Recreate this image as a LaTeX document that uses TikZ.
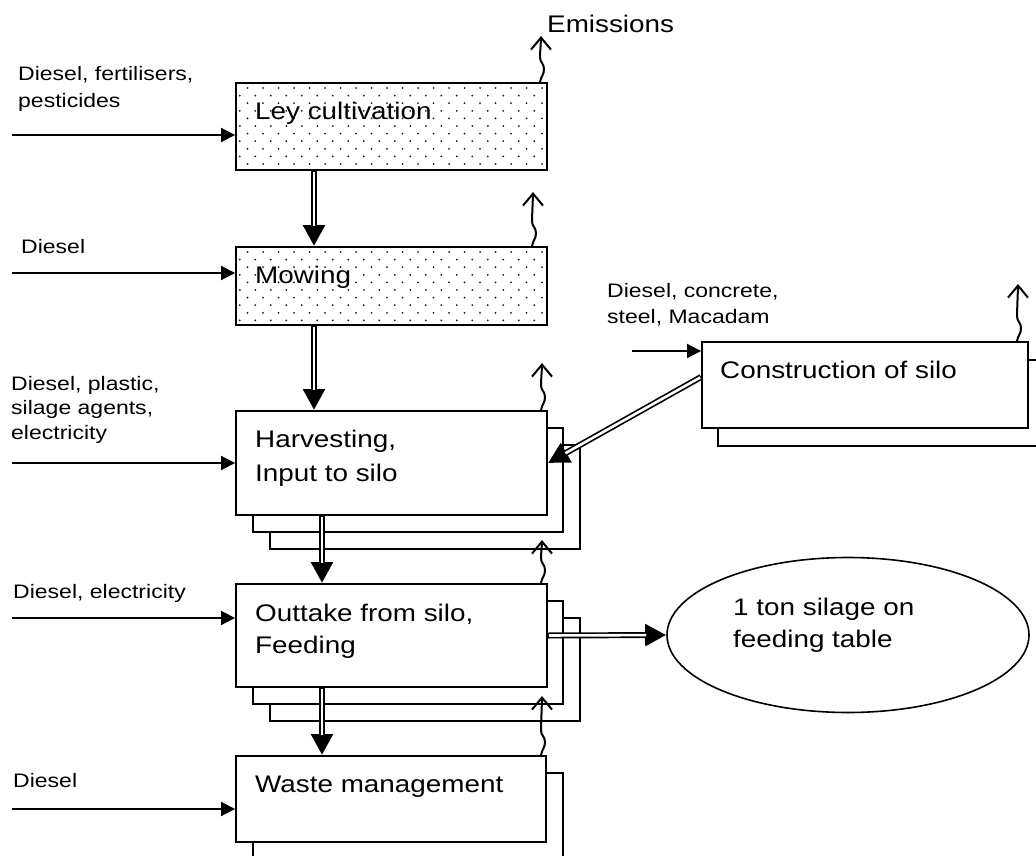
\documentclass[tikz,border=0pt]{standalone}
\usepackage{graphicx}
\usepackage{fontspec}
\setmainfont{Liberation Sans}
\usetikzlibrary{arrows.meta,shapes.geometric}

% wide text, as set in the original document
\newcommand\wbig[1]{\scalebox{1.16}[1]{#1}}
\newcommand\wsmall[1]{\scalebox{1.18}[1]{#1}}

% double-lined flow arrow: thick black stroke with tip, white core on top
\newcommand\dblarrow[2]{%
  \draw[flowout] #1 -- #2;
  \draw[flowin] #1 -- #2;}

% dotted fill inside a rectangle given by left, top, right, bottom
\newcommand\dotrect[4]{%
  \begin{scope}
    \clip (#1,#2) rectangle (#3,#4);
    \foreach \r in {0,...,14}{%
      \pgfmathsetmacro\yy{#2+4+\r*7.6}
      \pgfmathsetmacro\xo{#1+10.5-mod(\r,2)*7.75}
      \foreach \c in {0,...,21}{%
        \fill[black!90] (\xo+\c*15.5,\yy) circle (1pt);
      }
    }
  \end{scope}}

% wavy emission arrow rising from a point
\newcommand\emitfrom[2]{%
  \draw[emit] #1 .. controls +(1,-6) and +(0,6) .. ++(4,-13)
    .. controls +(0,-6) and +(0,6) .. ++(-4,-12)
    .. controls +(0,-4) and +(0,4) .. ++(1,#2);}

\begin{document}
\begin{tikzpicture}[x=1pt,y=-1pt,
  box/.style={draw, line width=1.9pt, fill=white, rectangle, inner sep=0pt},
  big/.style={inner sep=0pt, anchor=base west, font=\fontsize{24}{28}\selectfont},
  small/.style={inner sep=0pt, anchor=base west, font=\fontsize{19.5}{24}\selectfont},
  feed/.style={line width=1.9pt, -{Triangle[length=14pt,width=14pt]}},
  flowout/.style={line width=6pt, -{Triangle[length=21pt,width=21pt]}},
  flowin/.style={line width=2.6pt, white, shorten >=20pt, shorten <=1pt},
  emit/.style={line width=2pt, -{Straight Barb[length=12pt,width=20pt]}},
  product/.style={draw, line width=1.6pt, ellipse, inner sep=0pt},
]
\clip (0,0) rectangle (1036,856);
\fill[white] (0,0) rectangle (1036,856);

% ---- process boxes (stacked copies drawn first, behind) ----
\node[box, minimum width=311pt, minimum height=87pt] (ley) at (391.5,126.5) {};
\dotrect{237}{84}{546}{169}
\node[box, fill=none, minimum width=311pt, minimum height=87pt] (leyB) at (ley.center) {};
\node[box, minimum width=311pt, minimum height=78pt] (mow) at (391.5,286) {};
\dotrect{237}{248}{546}{324}
\node[box, fill=none, minimum width=311pt, minimum height=78pt] (mowB) at (mow.center) {};

\node[box, minimum width=310pt, minimum height=104pt] (harvB) at (425,497) {};
\node[box, minimum width=310pt, minimum height=104pt] (harvA) at (408,480) {};
\node[box, minimum width=311pt, minimum height=104pt] (harv) at (391.5,463) {};

\node[box, minimum width=310pt, minimum height=103pt] (outB) at (425,669.5) {};
\node[box, minimum width=310pt, minimum height=103pt] (outA) at (408,652.5) {};
\node[box, minimum width=311pt, minimum height=103pt] (out) at (391.5,635.5) {};

\node[box, minimum width=310pt, minimum height=86pt] (wasteA) at (408,816) {};
\node[box, minimum width=310pt, minimum height=86pt] (waste) at (391,799) {};

\node[box, minimum width=326pt, minimum height=86pt] (conA) at (881,403) {};
\node[box, minimum width=326pt, minimum height=86pt] (con) at (865,385) {};

\node[product, minimum width=362pt, minimum height=155pt] (silage) at (848,635) {};

% ---- box texts ----
\node[big] (tLey) at (255,120) {\wbig{Ley cultivation}};
\node[big] (tMow) at (255,283) {\wbig{Mowing}};
\node[big] (tHarv1) at (255,447) {\wbig{Harvesting,}};
\node[big] (tHarv2) at (255,481) {\wbig{Input to silo}};
\node[big] (tOut1) at (255,621) {\wbig{Outtake from silo,}};
\node[big] (tOut2) at (255,653) {\wbig{Feeding}};
\node[big] (tWaste) at (255,792) {\wbig{Waste management}};
\node[big] (tCon) at (720,378) {\wbig{Construction of silo}};
\node[big] (tSil1) at (733,615) {\wbig{1 ton silage on}};
\node[big] (tSil2) at (733,647) {\wbig{feeding table}};
\node[big] (tEmis) at (547,33) {\wbig{Emissions}};

% ---- input labels ----
\node[small] (iLey1) at (18,81) {\wsmall{Diesel, fertilisers,}};
\node[small] (iLey2) at (18,108) {\wsmall{pesticides}};
\node[small] (iMow) at (21,253) {\wsmall{Diesel}};
\node[small] (iHarv1) at (11,390) {\wsmall{Diesel, plastic,}};
\node[small] (iHarv2) at (11,414) {\wsmall{silage agents,}};
\node[small] (iHarv3) at (11,439) {\wsmall{electricity}};
\node[small] (iOut) at (13,598) {\wsmall{Diesel, electricity}};
\node[small] (iWaste) at (13,787) {\wsmall{Diesel}};
\node[small] (iCon1) at (607,297) {\wsmall{Diesel, concrete,}};
\node[small] (iCon2) at (607,323) {\wsmall{steel, Macadam}};

% ---- input arrows ----
\coordinate (sLey) at (12,135);
\coordinate (sMow) at (12,273);
\coordinate (sHarv) at (12,463);
\coordinate (sOut) at (12,618);
\coordinate (sWaste) at (12,809);
\coordinate (sCon) at (632,351);
\draw[feed] (sLey) -- (sLey -| ley.west);
\draw[feed] (sMow) -- (sMow -| mow.west);
\draw[feed] (sHarv) -- (sHarv -| harv.west);
\draw[feed] (sOut) -- (sOut -| out.west);
\draw[feed] (sWaste) -- (sWaste -| waste.west);
\draw[feed] (sCon) -- (sCon -| con.west);

% ---- main material flow ----
\dblarrow{(ley.south -| 314,0)}{(mow.north -| 314,0)}
\dblarrow{(mow.south -| 314,0)}{(harv.north -| 314,0)}
\dblarrow{(harv.south -| 322,0)}{(out.north -| 322,0)}
\dblarrow{(out.south -| 322,0)}{(waste.north -| 322,0)}
\dblarrow{(con.west |- 0,377)}{(harv.east)}
\dblarrow{(out.east)}{(silage.west)}

% ---- emissions ----
\emitfrom{(ley.north -| 540,0)}{-21}
\emitfrom{(mow.north -| 532,0)}{-29}
\emitfrom{(harv.north -| 541,0)}{-22}
\emitfrom{(out.north -| 541,0)}{-18}
\emitfrom{(waste.north -| 541,0)}{-34}
\emitfrom{(con.north -| 1017,0)}{-32}
\end{tikzpicture}
\end{document}
